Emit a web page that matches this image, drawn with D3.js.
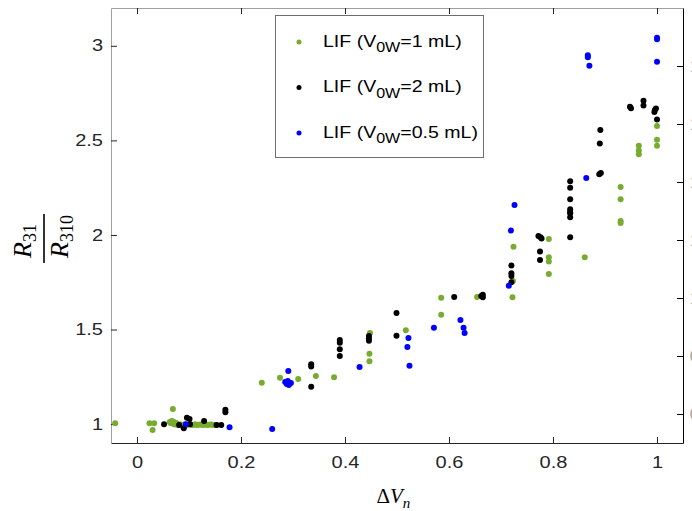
<!DOCTYPE html>
<html>
<head>
<meta charset="utf-8">
<script src="https://cdn.jsdelivr.net/npm/d3@7"></script>
<style>
  body { margin: 0; background: #fff; }
  svg { display: block; }
</style>
</head>
<body>
<div id="chart"></div>
<script>
    // LIF series, [dVn, R31/R310]
    var lif1mL = [
      [-0.042, 1.004], [0.024, 1.004], [0.033, 1.004], [0.030, 0.969], [0.069, 1.08],
      [0.063, 1.011], [0.065, 1.005], [0.067, 1.016], [0.070, 1.012], [0.071, 1.0],
      [0.073, 0.998], [0.075, 1.006], [0.077, 1.003], [0.079, 0.995],
      [0.083, 0.998], [0.085, 0.996], [0.088, 0.995], [0.092, 0.999], [0.095, 0.995],
      [0.098, 0.996], [0.103, 0.998], [0.105, 0.996], [0.108, 0.995], [0.112, 0.999],
      [0.115, 0.995], [0.118, 0.996], [0.122, 0.998], [0.125, 0.996], [0.128, 0.995],
      [0.132, 0.999], [0.135, 0.995], [0.138, 0.996], [0.142, 0.998], [0.145, 0.996],
      [0.148, 0.995], [0.152, 0.995],
      [0.240, 1.219], [0.275, 1.245], [0.310, 1.238], [0.344, 1.254], [0.379, 1.247],
      [0.448, 1.482], [0.447, 1.372], [0.447, 1.332], [0.517, 1.496],
      [0.585, 1.668], [0.585, 1.578], [0.654, 1.672],
      [0.722, 1.671], [0.723, 1.757], [0.724, 1.938],
      [0.792, 1.979], [0.792, 1.882], [0.792, 1.859], [0.792, 1.794], [0.861, 1.882],
      [0.930, 2.254], [0.930, 2.189], [0.930, 2.074], [0.930, 2.063],
      [0.965, 2.472], [0.965, 2.446], [0.965, 2.427],
      [1.0, 2.576], [1.0, 2.504], [1.0, 2.472]
    ];

    var lif2mL = [
      [0.052, 0.999], [0.081, 0.995], [0.090, 0.978], [0.096, 1.034], [0.101, 1.027],
      [0.102, 0.999], [0.129, 1.016], [0.153, 0.995], [0.162, 0.995], [0.170, 1.076],
      [0.170, 1.062],
      [0.335, 1.316], [0.335, 1.304], [0.335, 1.198],
      [0.390, 1.445], [0.390, 1.43], [0.390, 1.396], [0.390, 1.36],
      [0.446, 1.466], [0.446, 1.453], [0.446, 1.44],
      [0.499, 1.588], [0.499, 1.467], [0.610, 1.672],
      [0.665, 1.684], [0.665, 1.671], [0.662, 1.677],
      [0.720, 1.838], [0.720, 1.797], [0.720, 1.783], [0.720, 1.75],
      [0.776, 1.988], [0.772, 1.995], [0.778, 1.981], [0.775, 1.912], [0.775, 1.868],
      [0.833, 2.284], [0.833, 2.249], [0.833, 2.189], [0.833, 2.136], [0.833, 2.122],
      [0.833, 2.115], [0.833, 2.094], [0.833, 1.988],
      [0.889, 2.321], [0.892, 2.328], [0.891, 2.555], [0.890, 2.483],
      [0.948, 2.678], [0.950, 2.67], [0.974, 2.71], [0.974, 2.684],
      [0.996, 2.661], [0.998, 2.668], [0.995, 2.65], [1.0, 2.61]
    ];

    var lif05mL = [
      [0.094, 0.999], [0.178, 0.983], [0.260, 0.974],
      [0.285, 1.223], [0.288, 1.212], [0.292, 1.207], [0.296, 1.217], [0.290, 1.228],
      [0.291, 1.281], [0.428, 1.302],
      [0.522, 1.455], [0.520, 1.408], [0.524, 1.309], [0.571, 1.51],
      [0.622, 1.55], [0.628, 1.51], [0.630, 1.482],
      [0.715, 1.732], [0.719, 2.023], [0.726, 2.159], [0.864, 2.301],
      [0.867, 2.95], [0.867, 2.939], [0.870, 2.894],
      [1.0, 3.043], [1.0, 3.035], [1.0, 2.916]
    ];

    var xTicks = [0, 0.2, 0.4, 0.6, 0.8, 1];
    var xTickLabels = ["0", "0.2", "0.4", "0.6", "0.8", "1"];
    var yTicks = [1, 1.5, 2, 2.5, 3];
    var yTickLabels = ["1", "1.5", "2", "2.5", "3"];
    var rightTicks = [0.6, 0.8, 1, 1.2, 1.4, 1.6, 1.8];
    var rightTickLabels = ["0.6", "0.8", "1", "1.2", "1.4", "1.6", "1.8"];

    var seriesNames = ["1 mL", "2 mL", "0.5 mL"];
    var seriesColors = ["#77ac30", "#000000", "#0000ff"];

    // plot box (window.top is taken, so plain names are avoided)
    var W = 692, H = 511;
    var boxL = 111, boxR = 683, boxT = 8, boxB = 443;

    var svg = d3.select("#chart")
      .append("svg")
      .attr("width", W)
      .attr("height", H);

    svg.append("rect").attr("width", W).attr("height", H).attr("fill", "#fff");

    var x = d3.scaleLinear().domain([-0.05, 1.05]).range([boxL, boxR]);
    var y = d3.scaleLinear().domain([0.9, 3.2]).range([boxB, boxT]);
    var yRight = d3.scaleLinear().domain([0.5, 2.0]).range([boxB, boxT]);

    var tickFont = "'Liberation Sans', Arial, sans-serif";

    // bottom axis
    var xAxis = svg.append("g")
      .attr("transform", "translate(0," + boxB + ")")
      .call(d3.axisBottom(x).tickValues(xTicks).tickSize(-6).tickSizeOuter(0).tickPadding(14)
        .tickFormat(function (d, i) { return xTickLabels[i]; }));
    xAxis.select(".domain").attr("stroke", "#262626");
    xAxis.selectAll("line").attr("stroke", "#262626");
    xAxis.selectAll("text")
      .attr("font-family", tickFont).attr("font-size", 16).attr("fill", "#262626")
      .attr("transform", "scale(1.25,1)");

    // top axis (ticks only)
    var xTop = svg.append("g")
      .attr("transform", "translate(0," + boxT + ")")
      .call(d3.axisTop(x).tickValues(xTicks).tickSize(-6).tickSizeOuter(0).tickFormat(""));
    xTop.select(".domain").attr("stroke", "#a0a0a0");
    xTop.selectAll("line").attr("stroke", "#262626");

    // left axis
    var yAxis = svg.append("g")
      .attr("transform", "translate(" + boxL + ",0)")
      .call(d3.axisLeft(y).tickValues(yTicks).tickSize(-6).tickSizeOuter(0).tickPadding(6.4)
        .tickFormat(function (d, i) { return yTickLabels[i]; }));
    yAxis.select(".domain").attr("stroke", "#a0a0a0");
    yAxis.selectAll("line").attr("stroke", "#262626");
    yAxis.selectAll("text")
      .attr("font-family", tickFont).attr("font-size", 16).attr("fill", "#262626")
      .attr("transform", "scale(1.25,1)");

    // right axis, labels run off the page
    var rAxis = svg.append("g")
      .attr("transform", "translate(" + boxR + ",0)")
      .call(d3.axisRight(yRight).tickValues(rightTicks).tickSize(-6).tickSizeOuter(0).tickPadding(5.2)
        .tickFormat(function (d, i) { return rightTickLabels[i]; }));
    rAxis.select(".domain").attr("stroke", "#000");
    rAxis.selectAll("line").attr("stroke", "#000");
    rAxis.selectAll("text")
      .attr("font-family", tickFont).attr("font-size", 16).attr("fill", "#a8a8a8")
      .attr("transform", "scale(1.25,1)");

    // points
    [lif1mL, lif2mL, lif05mL].forEach(function (data, k) {
      svg.append("g")
        .selectAll("circle")
        .data(data)
        .enter()
        .append("circle")
        .attr("cx", function (d) { return x(d[0]); })
        .attr("cy", function (d) { return y(d[1]); })
        .attr("r", 3)
        .attr("fill", seriesColors[k]);
    });

    // legend
    var legend = svg.append("g");
    legend.append("rect")
      .attr("x", 275.5).attr("y", 15.5)
      .attr("width", 208).attr("height", 142)
      .attr("fill", "#fff").attr("stroke", "#6e6e6e");
    var rowY = [42, 87.5, 133];
    seriesNames.forEach(function (name, i) {
      legend.append("circle")
        .attr("cx", 299).attr("cy", rowY[i]).attr("r", 2.5)
        .attr("fill", seriesColors[i]);
      var t = legend.append("text")
        .attr("transform", "translate(323," + (rowY[i] + 4.5) + ") scale(1.15,1)")
        .attr("font-family", tickFont).attr("font-size", 17).attr("fill", "#000");
      t.append("tspan").text("LIF (V");
      t.append("tspan").attr("font-size", 14).attr("dy", 5.5).text("0W");
      t.append("tspan").attr("dy", -5.5).text("=" + name + ")");
    });

    // x label
    var mathFont = "'Liberation Serif', 'Times New Roman', serif";
    var xl = svg.append("text")
      .attr("x", 376.5).attr("y", 503)
      .attr("font-family", mathFont).attr("font-size", 21).attr("fill", "#000");
    xl.append("tspan").text("\u0394");
    xl.append("tspan").attr("font-style", "italic").text("V");
    xl.append("tspan").attr("font-style", "italic").attr("font-size", 15).attr("dy", 5).text("n");

    // y label, fraction R31 / R310
    var yl = svg.append("g").attr("transform", "rotate(-90)");
    var num = yl.append("text")
      .attr("x", -258).attr("y", 31)
      .attr("font-family", mathFont).attr("font-size", 26).attr("fill", "#000");
    num.append("tspan").attr("font-style", "italic").text("R");
    num.append("tspan").attr("font-size", 18).attr("dy", 5).text("31");
    var den = yl.append("text")
      .attr("x", -258).attr("y", 68)
      .attr("font-family", mathFont).attr("font-size", 26).attr("fill", "#000");
    den.append("tspan").attr("font-style", "italic").text("R");
    den.append("tspan").attr("font-size", 18).attr("dy", 5).text("310");
    svg.append("line")
      .attr("x1", 44).attr("x2", 44).attr("y1", 214).attr("y2", 263)
      .attr("stroke", "#000").attr("stroke-width", 1.6);
</script>
</body>
</html>
